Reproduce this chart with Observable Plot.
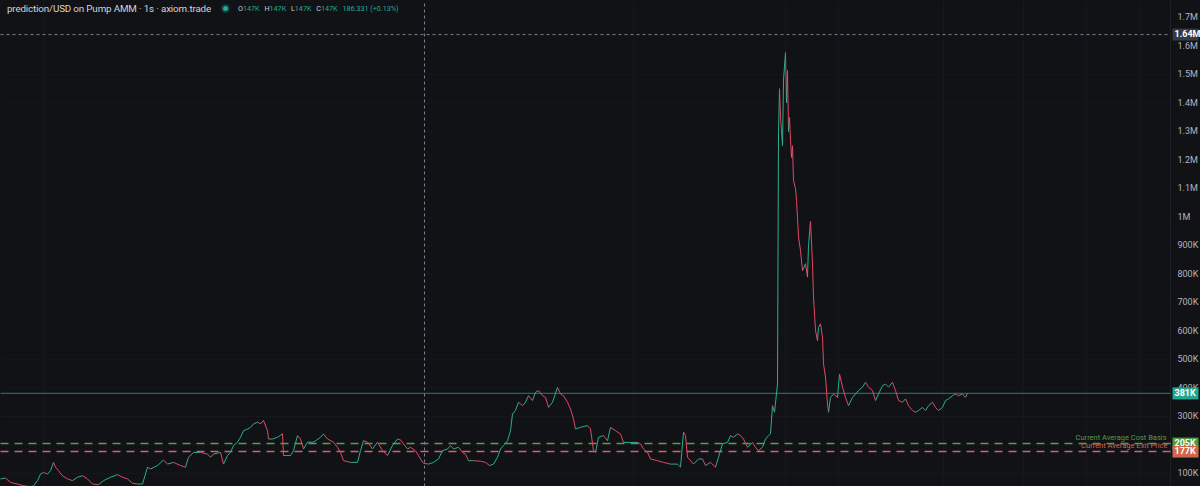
<!DOCTYPE html>
<html><head><meta charset="utf-8">
<script src="https://cdn.jsdelivr.net/npm/d3@7"></script>
<script src="https://cdn.jsdelivr.net/npm/@observablehq/plot@0.6"></script>
<style>
html,body{margin:0;padding:0;background:#111216;}
#wrap{position:relative;width:1200px;height:486px;overflow:hidden;}
#title{position:absolute;left:7px;top:3px;font-family:Roboto,sans-serif;white-space:nowrap;color:#d1d4dc;display:flex;align-items:center;}
#title .main{font-size:9.8px;letter-spacing:-0.15px;}
#title .dot{display:inline-block;width:5px;height:5px;border-radius:50%;background:#22ab94;box-shadow:0 0 0 2px rgba(34,171,148,0.25);margin:0 10px 0 12px;}
#title .ohlc{font-size:7.2px;color:#c9ccd4;}
#title .ohlc b{font-weight:normal;color:#22ab94;margin-right:3px;}
</style></head>
<body><div id="wrap"><div id="chart"></div>
<div id="title"><span class="main">prediction/USD on Pump AMM · 1s · axiom.trade</span><span class="dot"></span><span class="ohlc">O<b>147K</b> H<b>147K</b> L<b>147K</b> C<b>147K</b> <b>186.331 (+0.13%)</b></span></div>
</div>
<script>
// time index (seconds, arbitrary units) and price in thousands USD
const times = [0,5,10,17,23,30,33,37,40,43,47,50,53,55,58,62,67,72,77,82,87,92,98,103,110,117,122,127,132,137,142,147,150,157,163,167,173,180,185,188,193,200,207,210,213,220,223,227,230,233,237,240,243,247,250,253,257,260,263,267,268,272,277,282,283,290,293,297,300,303,307,313,320,323,327,333,337,340,343,350,357,360,363,367,372,377,382,387,392,397,400,
403,407,410,415,420,423,428,433,438,442,447,450,453,458,462,465,468,473,480,485,489,493,497,500,503,507,510,512,515,518,522,525,528,532,535,538,542,545,548,552,557,560,563,567,570,573,575,580,587,590,593,595,598,603,607,610,615,620,623,630,637,640,643,647,650,657,663,670,677,680,683,685,687,693,698,702,705,710,715,718,722,727,730,733,737,740,743,747,752,755,758,762,765,768,770,772,774,777,
778,779,780,782,783,785,786,787,788,789,790,791,792,793,795,796,797,
798,800,802,805,807,808,810,812,813,815,817,818,820,822,823,825,827,828,830,833,837,839,842,845,848,852,855,858,862,865,868,872,875,878,882,885,888,892,895,898,902,905,908,912,915,918,922,925,928,932,935,938,942,945,948,952,955,958,962,965,967];
const prices = [81,84,69,63,57,54,57,75,98,104,98,110,139,122,110,92,81,75,87,92,81,63,61,75,87,96,87,81,66,63,63,122,116,128,147,133,139,128,122,157,174,174,168,157,168,174,133,163,174,198,210,227,250,256,262,274,280,274,286,250,221,221,227,239,163,163,180,233,221,186,210,210,227,239,221,210,192,174,145,139,139,180,215,210,186,210,180,163,198,221,218,
204,186,192,180,151,136,133,139,151,180,186,198,186,192,174,168,145,145,143,139,128,133,157,186,198,215,250,309,321,350,338,350,373,356,385,391,373,367,332,350,402,379,373,350,326,291,256,262,268,256,180,174,227,233,215,262,250,239,209,209,209,204,186,174,151,145,139,133,133,122,245,233,157,133,151,151,128,139,122,157,204,209,233,227,239,233,221,192,209,192,180,192,221,233,239,338,315,414,
1300,1450,1350,1250,1480,1577,1400,1514,1300,1350,1268,1209,1250,1128,1100,1058,998,
930,882,812,836,789,900,985,836,719,602,566,613,625,578,485,438,344,315,367,379,367,449,403,367,338,367,379,391,403,420,403,391,356,379,408,414,403,420,391,356,350,362,338,321,315,321,332,321,338,350,332,321,332,356,362,373,379,373,379,367,381];

const yTicks = [100,300,400,500,600,700,800,900,1000,1100,1200,1300,1400,1500,1600,1700];
const gridTicks = [100,200,300,400,500,600,700,800,900,1000,1100,1200,1300,1400,1500,1600,1700];
const vGrid = [43,633,785,838,943,1023,1086,1140];
const lastPrice = 381;
const costBasis = 205;
const exitPrice = 177;
const crossX = 424;
const crossY = 1640;
const xMax = 1170;
const axisEnd = 1200;
const yMin = 54.4, yMax = 1759.6;

const fmt = v => v >= 1000 ? (Math.round(v/10)/100) + "M" : v + "K";

const pts = times.map((t,i)=>({t, v:prices[i]}));
const segs = pts.slice(0,-1).map((p,i)=>({t1:p.t, v1:p.v, t2:pts[i+1].t, v2:pts[i+1].v, up: pts[i+1].v >= p.v}));

const hGrid = gridTicks.map(v=>({x1:0, x2:xMax, y:v}));
const vGridSegs = vGrid.map(x=>({x, y1:yMin, y2:yMax}));
const priceLine = [{x1:0, x2:xMax, y:lastPrice}];
const dashLines = [
  {x1:0, x2:xMax, y:costBasis, c:"#5f9a4a"},
  {x1:0, x2:xMax, y:exitPrice, c:"#d65f68"}
];
const crossH = [{x1:0, x2:xMax, y:crossY}];
const crossV = [{x:crossX, y1:yMin, y2:yMax}];
const sep = [{x:xMax, y1:yMin, y2:yMax}];

const labels = [
  {v:lastPrice, text:fmt(lastPrice), bg:"#22a88c", fg:"#ffffff"},
  {v:costBasis, text:fmt(costBasis), bg:"#4e9a3c", fg:"#ffffff"},
  {v:exitPrice, text:fmt(exitPrice), bg:"#d0664b", fg:"#ffffff"},
  {v:crossY, text:"1.64M", bg:"#363a45", fg:"#ffffff"}
];

const chart = Plot.plot({
  width:1200, height:486,
  marginLeft:0, marginRight:30, marginTop:0, marginBottom:0,
  style:{background:"#111216", color:"#b2b5be", fontFamily:"Roboto, sans-serif", fontSize:"9px"},
  x:{domain:[0,xMax], axis:null},
  y:{domain:[yMin,yMax], axis:null},
  marks:[
    Plot.link(hGrid, {x1:"x1", x2:"x2", y1:"y", y2:"y", stroke:"#15171c", strokeWidth:1}),
    Plot.link(vGridSegs, {x1:"x", x2:"x", y1:"y1", y2:"y2", stroke:"#15171c", strokeWidth:1}),
    Plot.link(sep, {x1:"x", x2:"x", y1:"y1", y2:"y2", stroke:"#1e2027", strokeWidth:1}),
    Plot.link(priceLine, {x1:"x1", x2:"x2", y1:"y", y2:"y", stroke:"#22a88c", strokeOpacity:0.6, strokeWidth:1.2}),
    Plot.link(dashLines, {x1:"x1", x2:"x2", y1:"y", y2:"y", stroke:d=>d.c, strokeDasharray:"8,6", strokeWidth:1.5}),
    Plot.link(segs, {x1:"t1", y1:"v1", x2:"t2", y2:"v2", stroke:d=>d.up?"#2bae8e":"#e4485f", strokeWidth:1}),
    Plot.link(crossV, {x1:"x", x2:"x", y1:"y1", y2:"y2", stroke:"#7d808a", strokeDasharray:"3,3", strokeWidth:1}),
    Plot.link(crossH, {x1:"x1", x2:"x2", y1:"y", y2:"y", stroke:"#7d808a", strokeDasharray:"3,3", strokeWidth:1}),
    Plot.axisY(yTicks, {anchor:"right", tickSize:0, tickPadding:7, tickFormat:fmt, fill:"#b2b5be", fontSize:9, label:null}),
    Plot.text([costBasis], {x:[xMax-4], y:d=>d, text:()=>"Current Average Cost Basis", textAnchor:"end", dy:-6, fill:"#5a9a45", fontSize:7.5}),
    Plot.text([exitPrice], {x:[xMax-3], y:d=>d, text:()=>"Current Average Exit Price", textAnchor:"end", dy:-6, fill:"#d2664d", fontSize:7.5}),
    Plot.link(labels, {y1:"v", y2:"v", x1:()=>xMax+2, x2:()=>axisEnd-2, stroke:d=>d.bg, strokeWidth:12}),
    Plot.text(labels, {y:"v", x:()=>xMax+4, text:"text", fill:d=>d.fg, textAnchor:"start", fontSize:9, fontWeight:"bold"})
  ]
});
document.getElementById("chart").appendChild(chart);
</script>
</body></html>
